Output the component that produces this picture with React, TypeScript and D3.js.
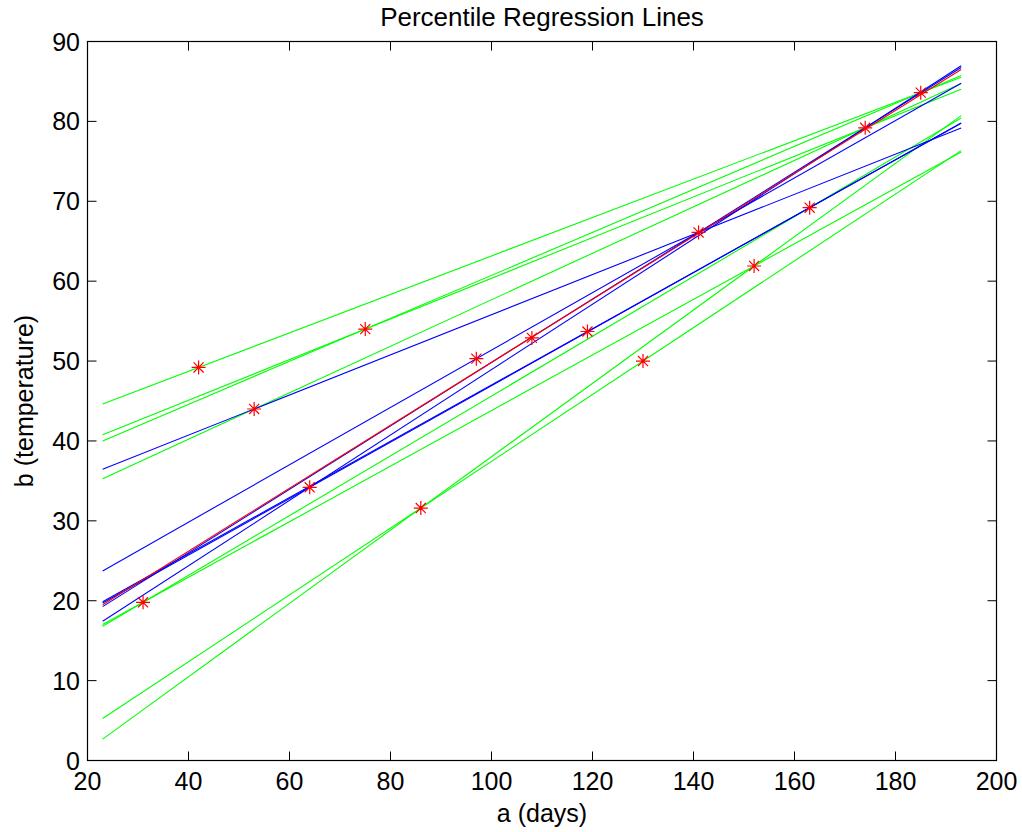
import React from "react";
import * as d3 from "d3";

// Observations
const aDays = [31, 42, 53, 64, 75, 86, 97, 108, 119, 130, 141, 152, 163, 174, 185];
const bTemp = [19.8, 49.2, 44.0, 34.2, 54.0, 31.6, 50.3, 52.9, 53.7, 50.0, 66.1, 61.9, 69.2, 79.2, 83.6];

// Regression lines, each through two observations (indices)
const greenPairs: [number, number][] = [
  [1, 14], [4, 14], [4, 13], [2, 13], [0, 11], [0, 12], [5, 11], [5, 9],
];
const bluePairs: [number, number][] = [
  [2, 10], [6, 10], [3, 13], [3, 12], [8, 12], [10, 13],
];
// Median line: b values at the ends of the fit range
const redEnds = [19.5, 86.5];
const fitRange = [23, 193];

const xTicks = [20, 40, 60, 80, 100, 120, 140, 160, 180, 200];
const yTicks = [0, 10, 20, 30, 40, 50, 60, 70, 80, 90];

const W = 1022, H = 832;
const L = 87.5, R = 996.5, T = 41.5, B = 760.5;
const FONT = "'Liberation Sans', Arial, Helvetica, sans-serif";

export default function App() {
  const x = d3.scaleLinear().domain([20, 200]).range([L, R]);
  const y = d3.scaleLinear().domain([0, 90]).range([B, T]);
  const line = d3.line<[number, number]>().x(d => x(d[0])).y(d => y(d[1]));

  const pairLine = (p: [number, number]) => {
    const [i, j] = p;
    const s = (bTemp[j] - bTemp[i]) / (aDays[j] - aDays[i]);
    const f = (a: number) => bTemp[i] + s * (a - aDays[i]);
    return line([[fitRange[0], f(fitRange[0])], [fitRange[1], f(fitRange[1])]]) || "";
  };

  const star = (cx: number, cy: number, r = 7) => {
    const d = r * 0.72;
    return `M${cx - r},${cy}H${cx + r}M${cx},${cy - r}V${cy + r}M${cx - d},${cy - d}L${cx + d},${cy + d}M${cx - d},${cy + d}L${cx + d},${cy - d}`;
  };

  const tick = 9;

  return (
    <svg width={W} height={H} style={{ position: "absolute", left: 0, top: 0, background: "#fff" }} fontFamily={FONT}>
      <rect x={0} y={0} width={W} height={H} fill="#fff" />
      <g>
        {greenPairs.map((p, k) => (
          <path key={"g" + k} d={pairLine(p)} stroke="#00ff00" strokeWidth={1.1} fill="none" />
        ))}
        {bluePairs.map((p, k) => (
          <path key={"b" + k} d={pairLine(p)} stroke="#0000ff" strokeWidth={1.1} fill="none" />
        ))}
        <path
          d={line([[fitRange[0], redEnds[0]], [fitRange[1], redEnds[1]]]) || ""}
          stroke="#ff0000"
          strokeWidth={1.1}
          fill="none"
        />
        {aDays.map((a, k) => (
          <path key={"s" + k} d={star(x(a), y(bTemp[k]))} stroke="#ff0000" strokeWidth={1.2} fill="none" />
        ))}
      </g>
      {/* axes box */}
      <rect x={L} y={T} width={R - L} height={B - T} fill="none" stroke="#000" strokeWidth={1.2} />
      {xTicks.map(t => (
        <g key={"xt" + t}>
          <line x1={x(t)} x2={x(t)} y1={B} y2={B - tick} stroke="#000" />
          <line x1={x(t)} x2={x(t)} y1={T} y2={T + tick} stroke="#000" />
          <text x={x(t)} y={790} fontSize={25} textAnchor="middle" fill="#000">{t}</text>
        </g>
      ))}
      {yTicks.map(t => (
        <g key={"yt" + t}>
          <line x1={L} x2={L + tick} y1={y(t)} y2={y(t)} stroke="#000" />
          <line x1={R} x2={R - tick} y1={y(t)} y2={y(t)} stroke="#000" />
          <text x={80} y={y(t)} dy="0.36em" fontSize={25} textAnchor="end" fill="#000">{t}</text>
        </g>
      ))}
      <text x={(L + R) / 2} y={822} fontSize={25} textAnchor="middle" fill="#000">a (days)</text>
      <text
        transform={`translate(33,${(T + B) / 2}) rotate(-90)`}
        fontSize={25}
        textAnchor="middle"
        fill="#000"
      >
        b (temperature)
      </text>
      <text x={(L + R) / 2} y={26} fontSize={26} textAnchor="middle" fill="#000">Percentile Regression Lines</text>
    </svg>
  );
}
